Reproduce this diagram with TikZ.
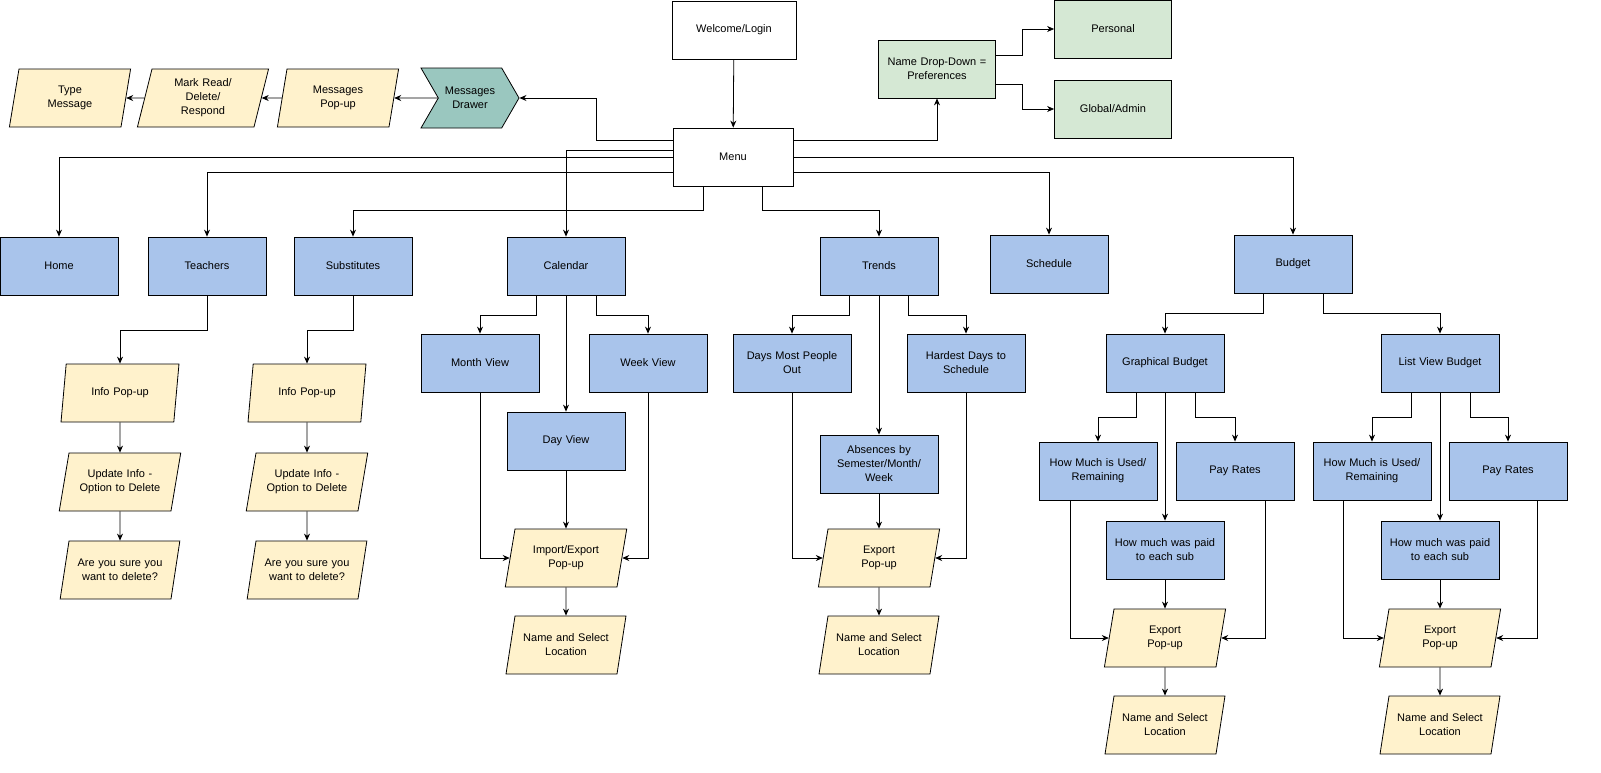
\documentclass[tikz,border=0pt]{standalone}
\usepackage{fontspec}
\setmainfont{Liberation Sans}
\usetikzlibrary{shapes.geometric,shapes.symbols,arrows.meta}
\definecolor{bl}{HTML}{A9C4EB}
\definecolor{yl}{HTML}{FFF2CC}
\definecolor{gr}{HTML}{D5E8D4}
\definecolor{tl}{HTML}{9AC7BF}
\begin{document}
\begin{tikzpicture}[x=1pt,y=-1pt,
 font=\fontsize{11}{14}\selectfont,
 base/.style={draw=black,line width=0.8pt,minimum width=118pt,minimum height=58pt,text width=112pt,align=center,inner sep=2pt},
 box/.style={base,fill=bl,rectangle},
 wbox/.style={base,fill=white,rectangle,minimum width=124pt},
 gbox/.style={base,fill=gr,rectangle},
 para/.style={base,fill=yl,trapezium,trapezium left angle=71,trapezium right angle=109,trapezium stretches=true,text width=98pt},
 arr/.style={draw=black,line width=0.8pt,-{Stealth[length=7pt,width=6pt]}}]
\useasboundingbox (0,0) rectangle (1601,772);
% top
\node[wbox] (wel) at (734,30) {Welcome/Login};
\node[wbox,minimum width=120pt] (menu) at (733,157) {Menu};
\node[gbox,minimum width=117pt] (dd) at (937,69) {Name Drop-Down =\\Preferences};
\node[gbox,minimum width=117pt] (pers) at (1113,29) {Personal};
\node[gbox,minimum width=117pt] (glob) at (1113,109) {Global/Admin};
\node[draw=black,line width=0.8pt,fill=tl,signal,signal to=east,signal from=west,minimum width=98pt,minimum height=60pt,signal pointer angle=120,align=center,inner sep=2pt] (drw) at (470,98) {Messages\\Drawer};
\node[para,minimum width=107pt] (mpop) at (338,98) {Messages\\Pop-up};
\node[para,minimum width=110pt] (mark) at (203,98) {Mark Read/\\Delete/\\Respond};
\node[para,minimum width=116pt] (type) at (70,98) {Type\\Message};
% row 2
\node[box] (home) at (59,266) {Home};
\node[box] (teach) at (207,266) {Teachers};
\node[box] (subs) at (353,266) {Substitutes};
\node[box] (cal) at (566,266) {Calendar};
\node[box] (trend) at (879,266) {Trends};
\node[box] (sched) at (1049,264) {Schedule};
\node[box] (bud) at (1293,264) {Budget};
% teachers / subs
\node[para] (ti1) at (120,393) {Info Pop-up};
\node[para] (ti2) at (120,482) {Update Info -\\Option to Delete};
\node[para] (ti3) at (120,570) {Are you sure you\\want to delete?};
\node[para] (si1) at (307,393) {Info Pop-up};
\node[para] (si2) at (307,482) {Update Info -\\Option to Delete};
\node[para] (si3) at (307,570) {Are you sure you\\want to delete?};
% calendar
\node[box] (month) at (480,363) {Month View};
\node[box] (week) at (648,363) {Week View};
\node[box] (day) at (566,441) {Day View};
\node[para] (imp) at (566,558) {Import/Export\\Pop-up};
\node[para] (cname) at (566,645) {Name and Select\\Location};
% trends
\node[box] (most) at (792,363) {Days Most People\\Out};
\node[box] (hard) at (966,363) {Hardest Days to\\Schedule};
\node[box] (abs) at (879,464) {Absences by\\Semester/Month/\\Week};
\node[para] (texp) at (879,558) {Export\\Pop-up};
\node[para] (tname) at (879,645) {Name and Select\\Location};
% budget
\node[box] (gb) at (1165,363) {Graphical Budget};
\node[box] (lb) at (1440,363) {List View Budget};
\node[box] (gu) at (1098,471) {How Much is Used/\\Remaining};
\node[box] (gp) at (1235,471) {Pay Rates};
\node[box] (gs) at (1165,550) {How much was paid\\to each sub};
\node[para] (ge) at (1165,638) {Export\\Pop-up};
\node[para] (gn) at (1165,725) {Name and Select\\Location};
\node[box] (lu) at (1372,471) {How Much is Used/\\Remaining};
\node[box] (lp) at (1508,471) {Pay Rates};
\node[box] (ls) at (1440,550) {How much was paid\\to each sub};
\node[para] (le) at (1440,638) {Export\\Pop-up};
\node[para] (ln) at (1440,725) {Name and Select\\Location};
% connectors top
\draw[arr] (wel) -- (menu);
\draw[arr] ([yshift=17pt]menu.east) -| (dd.south);
\draw[arr] ([yshift=14pt]dd.east) -- ++(26,0) |- (pers.west);
\draw[arr] ([yshift=-15pt]dd.east) -- ++(26,0) |- (glob.west);
\draw[arr] ([yshift=17pt]menu.west) -| ([xshift=77pt]drw.east) -- (drw.east);
\draw[arr] (drw.west) -- (mpop.east);
\draw[arr] (mpop.west) -- (mark.east);
\draw[arr] (mark.west) -- (type.east);
% menu to row 2
\draw[arr] (menu.west) -| (home.north);
\draw[arr] ([yshift=-15pt]menu.west) -| (teach.north);
\draw[arr] ([yshift=7pt]menu.west) -| (cal.north);
\draw[arr] ([xshift=-30pt]menu.south) -- ++(0,24) -| (subs.north);
\draw[arr] ([xshift=29pt]menu.south) -- ++(0,24) -| (trend.north);
\draw[arr] ([yshift=-15pt]menu.east) -| (sched.north);
\draw[arr] (menu.east) -| (bud.north);
% teachers/subs chains
\draw[arr] (teach.south) -- ++(0,35) -| (ti1.north);
\draw[arr] (ti1) -- (ti2); \draw[arr] (ti2) -- (ti3);
\draw[arr] (subs.south) -- ++(0,35) -| (si1.north);
\draw[arr] (si1) -- (si2); \draw[arr] (si2) -- (si3);
% calendar
\draw[arr] ([xshift=-30pt]cal.south) -- ++(0,20) -| (month.north);
\draw[arr] ([xshift=30pt]cal.south) -- ++(0,20) -| (week.north);
\draw[arr] (cal.south) -- (day.north);
\draw[arr] (month.south) |- (imp.west);
\draw[arr] (week.south) |- (imp.east);
\draw[arr] (day) -- (imp);
\draw[arr] (imp) -- (cname);
% trends
\draw[arr] ([xshift=-30pt]trend.south) -- ++(0,20) -| (most.north);
\draw[arr] ([xshift=29pt]trend.south) -- ++(0,20) -| (hard.north);
\draw[arr] (trend.south) -- (abs.north);
\draw[arr] (most.south) |- (texp.west);
\draw[arr] (hard.south) |- (texp.east);
\draw[arr] (abs) -- (texp);
\draw[arr] (texp) -- (tname);
% budget
\draw[arr] ([xshift=-30pt]bud.south) -- ++(0,20) -| (gb.north);
\draw[arr] ([xshift=30pt]bud.south) -- ++(0,20) -| (lb.north);
\draw[arr] ([xshift=-29pt]gb.south) -- ++(0,25) -| (gu.north);
\draw[arr] ([xshift=30pt]gb.south) -- ++(0,25) -| (gp.north);
\draw[arr] (gb.south) -- (gs.north);
\draw[arr] ([xshift=-28pt]gu.south) |- (ge.west);
\draw[arr] ([xshift=30pt]gp.south) |- (ge.east);
\draw[arr] (gs) -- (ge);
\draw[arr] (ge) -- (gn);
\draw[arr] ([xshift=-29pt]lb.south) -- ++(0,25) -| (lu.north);
\draw[arr] ([xshift=30pt]lb.south) -- ++(0,25) -| (lp.north);
\draw[arr] (lb.south) -- (ls.north);
\draw[arr] ([xshift=-29pt]lu.south) |- (le.west);
\draw[arr] ([xshift=29pt]lp.south) |- (le.east);
\draw[arr] (ls) -- (le);
\draw[arr] (le) -- (ln);
\end{tikzpicture}
\end{document}
